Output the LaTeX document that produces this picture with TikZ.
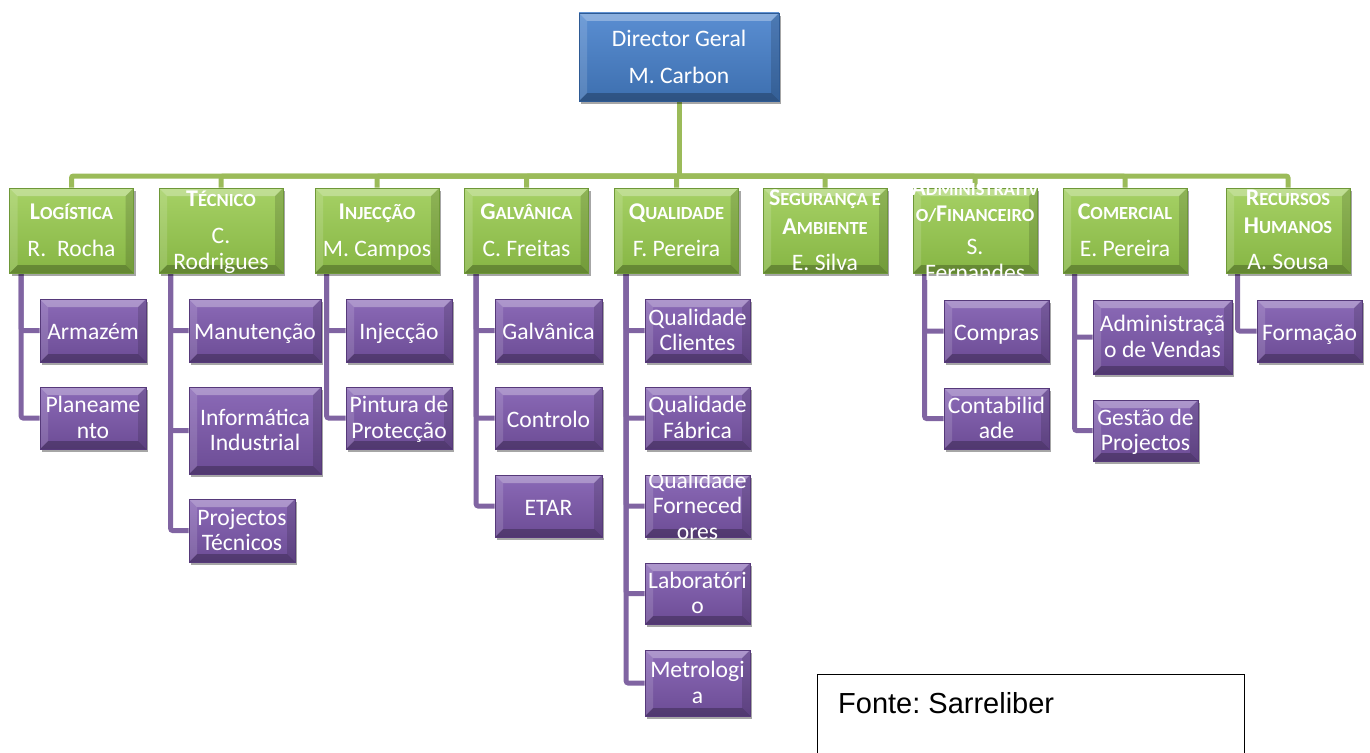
\documentclass[tikz,border=0pt]{standalone}
\usepackage{fontspec}
\setmainfont{Carlito}
\newfontfamily\arialf{Liberation Sans}
\usetikzlibrary{shadows,backgrounds,calc}

\definecolor{gline}{HTML}{9BBB59}
\definecolor{pline}{HTML}{8064A2}
\definecolor{bluetop}{HTML}{5A8ED2}
\definecolor{bluebot}{HTML}{3D6FAF}
\definecolor{blueedge}{HTML}{2E5A94}
\definecolor{greentop}{HTML}{A6D165}
\definecolor{greenbot}{HTML}{86B544}
\definecolor{greenedge}{HTML}{6E9838}
\definecolor{purptop}{HTML}{8B6AB7}
\definecolor{purpbot}{HTML}{6C4C95}
\definecolor{purpedge}{HTML}{56397A}

\newcommand\hd[2]{{\fontsize{24}{25.5}\selectfont\bfseries #1}{\fontsize{18.5}{25.5}\selectfont\bfseries #2}}
\newcommand\topstr{\rule{0pt}{19pt}}
\newcommand\botstr{\rule[-4pt]{0pt}{4pt}}

\tikzset{
  bevel/.style={path picture={
    \path (path picture bounding box.south west) coordinate (bsw)
          (path picture bounding box.north east) coordinate (bne);
    \fill[white,opacity=0.30] (bsw|-bne) -- (bne) -- ($(bne)+(-8pt,-8pt)$) -- ($(bsw|-bne)+(8pt,-8pt)$) -- cycle;
    \fill[black,opacity=0.25] (bsw) -- (bsw-|bne) -- ($(bsw-|bne)+(-8pt,8pt)$) -- ($(bsw)+(8pt,8pt)$) -- cycle;
    \fill[white,opacity=0.14] (bsw) -- (bsw|-bne) -- ($(bsw|-bne)+(8pt,-8pt)$) -- ($(bsw)+(8pt,8pt)$) -- cycle;
    \fill[black,opacity=0.14] (bne) -- (bsw-|bne) -- ($(bsw-|bne)+(-8pt,8pt)$) -- ($(bne)+(-8pt,-8pt)$) -- cycle;
  }},
  shbox/.style={rectangle, inner sep=0pt, line width=0.6pt, bevel,
    drop shadow={shadow xshift=2pt, shadow yshift=-3pt, opacity=0.35, fill=black}},
  bluebox/.style={shbox, top color=bluetop, bottom color=bluebot, draw=blueedge},
  greenbox/.style={shbox, top color=greentop, bottom color=greenbot, draw=greenedge,
    minimum width=124pt, minimum height=85pt},
  purpbox/.style={shbox, top color=purptop, bottom color=purpbot, draw=purpedge},
  txt/.style={text=white, align=center, inner sep=0pt, font=\fontsize{23.6}{25.5}\selectfont,
    yshift=-1.5pt, execute at begin node=\topstr, execute at end node=\botstr},
  gconn/.style={draw=gline, line width=5pt, rounded corners=2pt},
  pconn/.style={draw=pline, line width=5pt, rounded corners=2pt},
  sz/.style 2 args={minimum width=#1pt, minimum height=#2pt},
}

\begin{document}
\begin{tikzpicture}[x=1pt,y=-1pt]
\useasboundingbox (0,0) rectangle (1370,752);

% director
\node[bluebox, sz={200}{88}, label={[txt]center:{Director Geral\\[11.5pt]M. Carbon}}] (dir) at (679,57) {};

% departments
\node[greenbox, label={[txt]center:{\hd{L}{OGÍSTICA}\\[11.5pt]R.\ \ Rocha}}] (log) at (71.5,230.5) {};
\node[greenbox, label={[txt]center:{\hd{T}{ÉCNICO}\\[11.5pt]C.\\Rodrigues}}] (tec) at (221,230.5) {};
\node[greenbox, label={[txt]center:{\hd{I}{NJECÇÃO}\\[11.5pt]M. Campos}}] (inj) at (377,230.5) {};
\node[greenbox, label={[txt]center:{\hd{G}{ALVÂNICA}\\[11.5pt]C. Freitas}}] (gal) at (526.5,230.5) {};
\node[greenbox, label={[txt]center:{\hd{Q}{UALIDADE}\\[11.5pt]F. Pereira}}] (qua) at (676.5,230.5) {};
\node[greenbox, label={[txt]center:{\hd{S}{EGURANÇA E}\\[3pt]\hd{A}{MBIENTE}\\[10.5pt]E. Silva}}] (seg) at (825,230.5) {};
\node[greenbox, label={[txt]center:{\hd{A}{DMINISTRATIV}\\\hd{}{O/}\hd{F}{INANCEIRO}\\[8pt]S.\\Fernandes}}] (adm) at (975,230.5) {};
\node[greenbox, label={[txt]center:{\hd{C}{OMERCIAL}\\[11.5pt]E. Pereira}}] (com) at (1125,230.5) {};
\node[greenbox, label={[txt]center:{\hd{R}{ECURSOS}\\[2.5pt]\hd{H}{UMANOS}\\[10.5pt]A. Sousa}}] (rh) at (1288,230.5) {};

% units
\node[purpbox, sz={106}{63}, label={[txt]center:{Armazém}}] (arm) at (93,330.5) {};
\node[purpbox, sz={106}{62}, label={[txt]center:{Planeame\\nto}}] (pla) at (93,418) {};
\node[purpbox, sz={132}{63}, label={[txt]center:{Manutenção}}] (man) at (255,330.5) {};
\node[purpbox, sz={132}{87}, label={[txt]center:{Informática\\Industrial}}] (inf) at (255,430.5) {};
\node[purpbox, sz={106}{63}, label={[txt]center:{Projectos\\Técnicos}}] (prj) at (242,530.5) {};
\node[purpbox, sz={106}{63}, label={[txt]center:{Injecção}}] (inj2) at (399,330.5) {};
\node[purpbox, sz={106}{62}, label={[txt]center:{Pintura de\\Protecção}}] (pin) at (399,418) {};
\node[purpbox, sz={107}{63}, label={[txt]center:{Galvânica}}] (gal2) at (548.5,330.5) {};
\node[purpbox, sz={107}{62}, label={[txt]center:{Controlo}}] (con) at (548.5,418) {};
\node[purpbox, sz={107}{62}, label={[txt]center:{ETAR}}] (eta) at (548.5,506) {};
\node[purpbox, sz={105}{63}, label={[txt]center:{Qualidade\\Clientes}}] (qcl) at (697.5,330.5) {};
\node[purpbox, sz={105}{62}, label={[txt]center:{Qualidade\\Fábrica}}] (qfa) at (697.5,418) {};
\node[purpbox, sz={105}{62}, label={[txt]center:{Qualidade\\Forneced\\ores}}] (qfo) at (697.5,506) {};
\node[purpbox, sz={105}{61}, label={[txt]center:{Laboratóri\\o}}] (lab) at (697.5,593.5) {};
\node[purpbox, sz={105}{66}, label={[txt]center:{Metrologi\\a}}] (met) at (697.5,683) {};
\node[purpbox, sz={105}{62}, label={[txt]center:{Compras}}] (cmp) at (996.5,331) {};
\node[purpbox, sz={105}{61}, label={[txt]center:{Contabilid\\ade}}] (ctb) at (996.5,418.5) {};
\node[purpbox, sz={139}{74}, label={[txt]center:{Administraçã\\o de Vendas}}] (adv) at (1162.5,337) {};
\node[purpbox, sz={105}{61}, label={[txt]center:{Gestão de\\Projectos}}] (gep) at (1145.5,430.5) {};
\node[purpbox, sz={105}{62}, label={[txt]center:{Formação}}] (for) at (1309.5,331) {};

% source box
\node[draw=black, line width=1.3pt, anchor=north west, minimum width=427pt, minimum height=110pt, inner sep=0pt,
  label={[anchor=base west, xshift=21pt, yshift=-39pt, inner sep=0pt, font=\arialf\fontsize{29}{30}\selectfont]north west:{Fonte:\ Sarreliber}}]
  (fonte) at (817,674) {};

\coordinate (bus) at (679,176);

\begin{pgfonlayer}{background}
  \draw[gconn] (dir.south) -- (bus);
  \foreach \g in {log,tec,inj,gal,qua,seg,adm,com,rh}
    \draw[gconn] (\g.north) |- (bus);
  \foreach \g/\c in {log/arm,log/pla,tec/man,tec/inf,tec/prj,inj/inj2,inj/pin,
                     gal/gal2,gal/con,gal/eta,qua/qcl,qua/qfa,qua/qfo,qua/lab,qua/met,
                     adm/cmp,adm/ctb,com/adv,com/gep,rh/for}
    \draw[pconn] ([xshift=12pt]\g.south west) |- (\c.west);
\end{pgfonlayer}
\end{tikzpicture}
\end{document}
